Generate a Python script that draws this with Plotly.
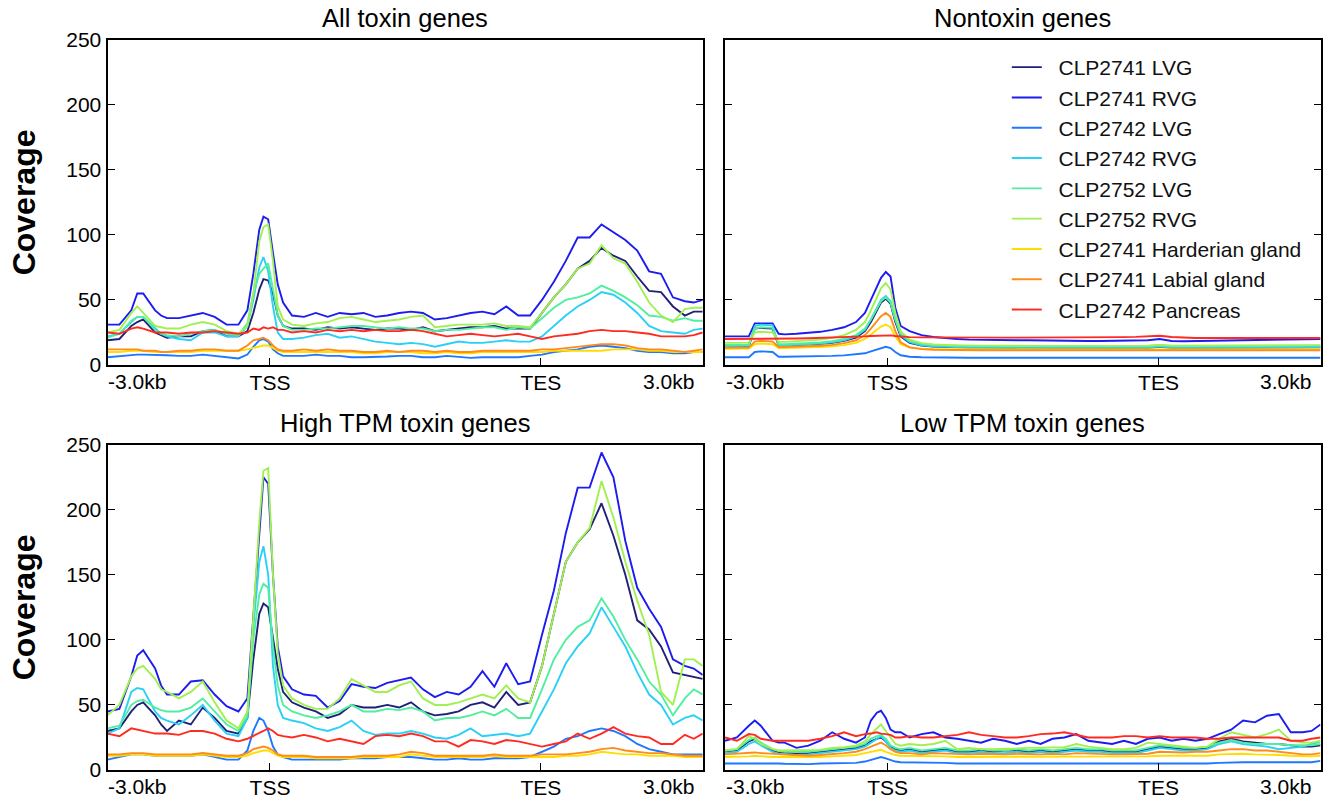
import plotly.graph_objects as go

# x grid (position along the scaled profile, 0..1000 = full panel width)
bins = [0, 20, 40, 50, 60, 80, 90, 100, 120, 140, 160, 180, 200, 220, 235, 245, 255, 262, 270, 278,
        286, 295, 310, 330, 350, 370, 390, 410, 430, 450, 470, 490, 510, 530, 550, 570, 590, 610, 630, 650,
        670, 690, 710, 730, 750, 770, 790, 810, 830, 850, 870, 890, 910, 930, 950, 970, 985, 1000]

tick_pos = [50, 273, 728, 942]
tick_text = ["-3.0kb", "TSS", "TES", "3.0kb"]

samples = ["CLP2741 LVG", "CLP2741 RVG", "CLP2742 LVG", "CLP2742 RVG", "CLP2752 LVG",
           "CLP2752 RVG", "CLP2741 Harderian gland", "CLP2741 Labial gland", "CLP2742 Pancreas"]
colors = ["#20207a", "#1c1cf0", "#1e78ff", "#2ad0f5", "#50eea0",
          "#a0f050", "#ffdd00", "#ff8c1a", "#ff2a20"]

panel_titles = ["All toxin genes", "Nontoxin genes", "High TPM toxin genes", "Low TPM toxin genes"]

# ---- All toxin genes ----
all_41_lvg = [19,20,30,33,35, 25,23,21,22,22, 26,27,22,22,26, 40,58,66,65,55, 38,30,28,28,27, 29,28,29,28,27,
              28,28,27,29,26, 27,28,29,29,30, 28,28,28,40,52, 62,74,80,90,84, 80,68,57,56,45, 38,41,41]
all_41_rvg = [31,31,42,55,55, 42,38,36,36,38, 40,37,31,31,42, 70,104,114,112,86, 62,48,38,37,40, 37,40,39,40,37,
              38,40,41,40,35, 36,38,40,41,39, 45,38,38,50,64, 80,98,98,108,102, 96,88,72,70,52, 49,48,50]
all_42_lvg = [6,7,8,8,8, 8,7.5,7.5,7,7, 8,7,6,5,8, 14,19,20,18,12, 9,7,7,7,8, 7,7,6,6,6,
              6.5,7,7,6,6, 7,6,5.5,6,6, 6,6,7,8,10, 11,12,14,15,14, 13,11,10,10,9, 9,10,10]
all_42_rvg = [22,24,33,37,37, 28,24,22,20,19, 25,25,22,22,30, 50,75,83,72,45, 25,20,20,21,23, 24,21,22,20,18,
              17,16,17,16,14, 16,18,17,17,18, 19,18,18,22,30, 38,45,50,56,54, 48,40,30,26,25, 24,27,28]
all_52_lvg = [21,24,34,37,37, 27,24,23,22,24, 26,27,24,23,32, 55,70,74,78,58, 38,30,27,27,28, 28,29,30,30,29,
              28,29,28,28,26, 27,27,28,29,29, 27,29,28,36,44, 50,52,55,61,57, 52,46,38,37,34, 36,34,34]
all_52_rvg = [25,27,40,45,40, 30,29,28,28,31, 33,31,26,24,30, 55,95,106,108,80, 45,35,31,30,32, 33,36,37,35,33,
              34,35,37,38,29, 30,31,31,31,32, 30,30,29,40,52, 62,74,78,92,82, 78,64,48,38,33, 43,44,44]
all_41_hg = [10,10,11,11,11, 10,10,10,10,10, 11,11,11,11,12, 13,14,15,15,13, 11,10,10,10,10, 10,10,10,9,9,
             10,10,10,9,9, 10,9,9,10,10, 10,10,10,10,11, 11,11,11,11,12, 12,12,11,11,10, 10,10,10]
all_41_lg = [12,12,12,12,11, 11,10,10,11,11, 12,12,11,11,15, 19,20,21,19,15, 12,11,11,12,11, 12,11,11,10,10,
             11,10,11,11,10, 11,10,10,11,11, 11,11,11,12,12, 13,14,15,16,16, 15,13,12,12,11, 10,11,12]
all_42_pan = [25,24,28,29,28, 25,25,25,24,25, 25,26,25,24,25, 28,27,29,28,29, 27,27,25,26,25, 27,26,27,26,27,
              26,26,27,26,24, 22,23,24,23,22, 23,24,22,20,22, 23,24,26,27,26, 26,25,24,22,22, 22,23,25]

# ---- Nontoxin genes ----
non_41_lvg = [14.5,14.5,14.6,28,28.5, 28,15,15,15.3,15.6, 16.2,17,18.5,21,26, 33,42,48,51,47, 33,22,17,15,14.2,
              13.8,13.6,13.5,13.4,13.3, 13.3,13.3,13.2,13.2,13.2, 13.2,13.2,13.2,13.2,13.2, 13.2,13.2,13.3,14,13.3,
              13.3,13.3,13.3,13.4,13.4, 13.4,13.5,13.5,13.5,13.5, 13.6,13.6,13.6]
non_41_rvg = [22,22,22,32,32, 32,24,23.5,24,24.5, 25.5,27,29,33,40, 50,60,67,71.5,68, 44,30,26,23,21.5,
              20.5,20,19.5,19.3,19, 19,19,19,18.8,18.7, 18.6,18.5,18.5,18.5,18.5, 18.6,18.8,19,20,18.5,
              18.2,18.4,18.6,18.8,19, 19.2,19.4,19.6,19.8,20, 20,20,20]
non_42_lvg = [6,6,6,10,10.5, 10,6.3,6.3,6.4,6.5, 6.7,7,7.4,8,9, 10.5,12,13,14,13, 10,7.5,6.3,5.9,5.7,
              5.6,5.6,5.6,5.6,5.6, 5.6,5.6,5.6,5.6,5.6, 5.6,5.6,5.6,5.6,5.6, 5.6,5.6,5.6,5.8,5.6,
              5.6,5.6,5.6,5.6,5.6, 5.6,5.6,5.6,5.6,5.6, 5.6,5.6,5.6]
non_42_rvg = [14.6,14.6,14.8,30,31, 30.5,15.2,15.2,15.5,15.8, 16.5,17.5,19,22,27, 35,44,50,53,49, 35,23,17.5,15.2,14.3,
              13.9,13.7,13.5,13.4,13.4, 13.3,13.3,13.3,13.3,13.3, 13.3,13.3,13.3,13.3,13.3, 13.3,13.3,13.4,14.2,13.4,
              13.4,13.4,13.4,13.5,13.5, 13.5,13.6,13.6,13.6,13.6, 13.7,13.7,13.7]
non_52_lvg = [15.5,15.5,15.6,28,29, 28.5,16,16,16.3,16.6, 17.3,18.3,20,23,28, 35,43,49,52,48, 35,24,18.5,16.2,15.3,
              15,14.8,14.7,14.6,14.6, 14.6,14.6,14.6,14.6,14.6, 14.6,14.6,14.6,14.6,14.6, 14.6,14.6,14.7,15.3,14.7,
              14.7,14.7,14.7,14.8,14.8, 14.8,14.8,14.9,14.9,14.9, 14.9,15,15]
non_52_rvg = [17,17,17.2,25,25.5, 25,17.8,17.8,18.2,18.6, 19.5,20.8,23,27,33, 42,52,59,63,58, 40,26,19.5,16.8,15.8,
              15.3,15,14.9,14.8,14.7, 14.7,14.7,14.7,14.7,14.7, 14.7,14.7,14.7,14.7,14.7, 14.7,14.7,14.8,15.4,14.8,
              14.8,14.8,14.8,14.9,14.9, 14.9,14.9,15,15,15, 15,15.1,15.1]
non_41_hg = [12.5,12.5,12.6,16,16.5, 16,13,13,13.2,13.4, 13.8,14.4,15.3,17,20, 23.5,27,29.5,31,29, 22,16,13.5,12.6,12.3,
             12.1,12,12,12,12, 12,12,12,12,12, 12,12,12,12,12, 12,12,12,12.4,12,
             12,12,12,12,12, 12,12,12,12,12, 12,12,12]
non_41_lg = [13.3,13.3,13.4,18,18.5, 18,13.8,13.8,14,14.3, 14.8,15.5,16.8,19,23, 28,33.5,37.5,40,37, 26,17.5,13.5,12.2,11.7,
             11.5,11.4,11.3,11.3,11.3, 11.3,11.3,11.3,11.3,11.3, 11.3,11.3,11.3,11.3,11.3, 11.3,11.3,11.3,11.8,11.3,
             11.3,11.3,11.3,11.3,11.3, 11.3,11.3,11.3,11.3,11.3, 11.3,11.3,11.3]
non_42_pan = [20,20,20,20,20, 20,20.2,20.2,20.4,20.6, 20.8,21,21.3,21.7,22, 22.3,22.6,22.8,23,22.8, 22.3,21.8,21.4,21.2,21.1,
              21,21,21,21,21, 21,21,21,21,21, 21.1,21.1,21.2,21.2,21.3, 21.4,21.6,21.9,22.5,21.5,
              21,20.8,20.8,20.8,20.8, 20.8,20.8,20.8,20.8,20.8, 20.8,20.8,20.8]

# ---- High TPM toxin genes ----
high_41_lvg = [30,32,45,50,52, 42,35,30,38,35, 48,40,30,28,40, 85,120,128,125,100, 78,60,52,48,45, 40,43,50,48,48,
               50,48,52,45,42, 43,45,50,52,48, 60,50,52,80,120, 160,175,185,205,180, 150,115,108,95,75, 73,72,70]
high_41_rvg = [45,47,72,88,92, 78,65,58,58,68, 69,58,49,45,55, 120,180,225,220,150, 95,72,62,58,57, 48,53,66,64,63,
               67,69,71,62,56, 60,58,64,76,64, 82,66,68,104,138, 182,217,217,244,225, 176,140,124,110,85, 80,78,73]
high_42_lvg = [8,10,12,12,12, 11,11,11,11,11, 12,10,8,8,15, 30,40,38,30,18, 12,10,8,8,8, 8,8,9,9,9,
               10,10,10,9,8, 8,9,8,8,9, 9,9,10,14,18, 24,26,30,32,30, 26,20,16,14,12, 12,12,12]
high_42_rvg = [28,32,60,63,62, 45,40,38,35,42, 50,38,28,26,40, 110,160,172,150,80, 50,40,38,36,32, 30,33,38,30,27,
               28,28,30,28,25, 24,27,32,26,27, 28,26,28,45,62, 82,95,105,125,110, 95,75,58,50,35, 40,42,38]
high_52_lvg = [32,34,50,53,54, 48,46,45,45,48, 55,45,35,30,42, 100,135,143,140,95, 65,50,45,42,40, 42,45,50,45,45,
               47,46,48,45,38, 40,40,42,45,42, 47,40,40,62,85, 100,110,115,132,118, 100,85,68,58,42, 55,62,58]
high_52_rvg = [42,50,72,78,80, 70,62,60,55,60, 68,52,38,32,45, 120,190,230,232,150, 90,65,55,50,47, 47,55,70,65,60,
               60,65,68,55,50, 50,52,55,58,55, 65,55,52,80,120, 160,175,186,222,194, 160,130,104,60,50, 85,85,80]
high_41_hg = [11,11,12,12,12, 11,11,11,11,11, 12,11,10,10,11, 13,14,15,15,13, 11,10,10,10,9, 9,9,9,10,10,
              10,10,12,11,10, 10,10,10,10,11, 10,10,10,10,10, 11,11,12,14,13, 12,12,11,11,11, 10,10,10]
high_41_lg = [12,12,13,13,13, 12,12,12,12,12, 13,12,11,11,13, 16,17,18,17,15, 12,11,11,11,10, 10,10,10,11,11,
              11,12,14,13,11, 11,11,11,11,12, 11,11,11,12,12, 12,13,14,16,17, 15,14,13,13,12, 11,11,11]
high_42_pan = [28,26,32,31,30, 28,28,28,27,30, 30,28,24,22,24, 26,28,30,32,30, 27,26,25,27,25, 22,24,22,20,26,
               27,26,28,26,22, 22,18,23,22,20, 23,22,20,18,20, 22,28,24,28,33, 28,26,25,20,20, 27,24,28]

# ---- Low TPM toxin genes ----
low_41_lvg = [14,15,22,24,20, 15,13.5,13,12.5,13, 14,15,16,17,19, 22,24,25,22,18, 16,15,16,14,15, 16,14,14,15,14,
              15,15,14,15,14, 15,16,15,15,14, 14,14,16,18,17, 16,16,17,22,24, 22,21,20,20,19, 18,18,19]
low_41_rvg = [22.5,25,34,38,34, 22.5,21,21,17,18.7, 22.5,29,24,21,25, 38,44,45.5,40,31, 29,29,25,27.6,29,
              25,24,22.5,21,24, 22.5,20,22.5,20,24, 25,27.6,22.5,21,20, 22.5,20,24,25,22.5,
              24,22.5,24,27.6,31, 38,36.6,41.7,43,29, 29,30,35]
low_42_lvg = [5,5,5.5,5.5,5.5, 5,5,4.8,4.5,4.5, 5,5,5.5,5.5,6.5, 8,9.5,10,9,7.5, 6.5,6,6,5.5,6, 5.5,5,5,5,5,
              4.8,5,5,4.8,5, 5,5,5,4.5,5, 5,4.8,4.5,5,5, 5,5,5,5.5,6, 6,6,6,6,5.5, 5.5,6,7]
low_42_rvg = [13,14,20,22,19, 14,12.5,12,11.5,12, 13,14,15,16,18, 21,24,26,22,17, 15,14,15,13,14, 15,13,13,14,13,
              13,14,13,14,13, 14,15,14,14,13, 13,13,15,17,16, 15,15,16,20,22, 20,19,18,16,17, 18,20,22]
low_52_lvg = [15,16,23,25,21, 16,14.5,14,14,14, 15,16,17,18,20, 24,26,27,24,19, 17,16,17,15,16, 17,15,15,16,15,
              15,16,15,16,15, 16,17,16,16,15, 15,15,17,19,18, 17,17,18,21,23, 21,20,20,20,19, 19,19,20]
low_52_rvg = [15,16,26,24,20, 16,15,15,15,15, 15.5,17,17.5,18.7,22, 27.6,32,35,30,25, 20,18.7,20,19,20,
              22.5,16,17,16,16, 16,16.5,17,17,17, 17.5,20,18,17,16, 16,17,21,20,18.7,
              18,17,18,24,29, 27,25,27.6,31,22.5, 21,21,22.5]
low_41_hg = [10,10,10.5,11,10.5, 10,10,10,9.5,9.5, 10,10.5,11,11.5,13, 14,15,15.5,14,12.5, 11.5,11,11,10.5,10.5,
             10.5,10,10,10.5,10, 10,10,10,10,10.5, 10,10.5,10,10,10, 10,10,10.5,11,11, 11,11,11,12,12.5,
             12.5,12,12,11.5,11, 10.5,10.5,11]
low_41_lg = [12,12.5,13,13.5,13, 12.5,12,11.5,11,11, 11.5,12,13,14,16, 18,20,21,19,16, 14,13,13,12,13,
             12.5,12,12,12.5,12, 12,12.5,12,12,12.5, 12,13,12.5,12.5,12, 12,12,12.5,14,13.5,
             13.5,14,14,15,16, 16,15,15,14,13, 12,12,13]
low_42_pan = [25,22.5,27.6,27,24, 22.5,22.5,22.5,22.5,22.5, 24,26,29,26,27.6, 28,29,28,27.6,27, 25,25,26,25,25,
              26,27,29,27,26, 25,25,26,27.6,28, 29,27,25,25,25, 26,26,25,26,25, 25,25,24,24,25,
              25,25,25,25,22.5, 22.5,24,25]

panels = [
    [all_41_lvg, all_41_rvg, all_42_lvg, all_42_rvg, all_52_lvg, all_52_rvg, all_41_hg, all_41_lg, all_42_pan],
    [non_41_lvg, non_41_rvg, non_42_lvg, non_42_rvg, non_52_lvg, non_52_rvg, non_41_hg, non_41_lg, non_42_pan],
    [high_41_lvg, high_41_rvg, high_42_lvg, high_42_rvg, high_52_lvg, high_52_rvg, high_41_hg, high_41_lg, high_42_pan],
    [low_41_lvg, low_41_rvg, low_42_lvg, low_42_rvg, low_52_lvg, low_52_rvg, low_41_hg, low_41_lg, low_42_pan],
]

W, H = 1328, 799
FONT = "Liberation Sans, Arial, Helvetica, sans-serif"

# panel boxes in pixels (left, right, top, bottom)
boxes = [(107.5, 702.7, 39.7, 365.0), (725.0, 1320.5, 39.7, 365.0),
         (107.5, 702.7, 444.7, 770.0), (725.0, 1320.5, 444.7, 770.0)]

fig = go.Figure()
for p, series in enumerate(panels):
    ax = "" if p == 0 else str(p + 1)
    for i, ys in enumerate(series):
        fig.add_trace(go.Scatter(
            x=bins, y=ys, mode="lines", name="\u00a0\u00a0" + samples[i],
            line=dict(color=colors[i], width=1.9),
            xaxis="x" + ax, yaxis="y" + ax,
            showlegend=(p == 1), legendgroup=samples[i],
            hoverinfo="skip"))

layout = dict(width=W, height=H, margin=dict(l=0, r=0, t=0, b=0, autoexpand=False),
              paper_bgcolor="white", plot_bgcolor="white",
              font=dict(family=FONT, size=21, color="black"),
              showlegend=True,
              legend=dict(x=1006.8 / W, y=1 - 47 / H, xanchor="left", yanchor="top",
                          bgcolor="rgba(0,0,0,0)", borderwidth=0,
                          font=dict(family=FONT, size=21, color="#111"),
                          tracegroupgap=0, traceorder="normal"),
              annotations=[])

annotations = []
for p, (l, r, t, b) in enumerate(boxes):
    ax = "" if p == 0 else str(p + 1)
    layout["xaxis" + ax] = dict(
        domain=[l / W, r / W], anchor="y" + ax, range=[0, 1000],
        showline=True, mirror=True, linecolor="black", linewidth=2,
        ticks="inside", ticklen=7, tickwidth=1.2, tickcolor="black",
        tickvals=tick_pos[1:3], ticktext=tick_text[1:3], ticklabelstandoff=-2,
        tickfont=dict(size=21), showgrid=False, zeroline=False, fixedrange=True)
    layout["yaxis" + ax] = dict(
        domain=[1 - b / H, 1 - t / H], anchor="x" + ax, range=[0, 250],
        showline=True, mirror="ticks", linecolor="black", linewidth=2,
        ticks="inside", ticklen=7, tickwidth=1.2, tickcolor="black",
        tickvals=[0, 50, 100, 150, 200, 250], showticklabels=(p % 2 == 0),
        tickfont=dict(size=21), showgrid=False, zeroline=False, fixedrange=True)
    # end labels of the profile axis
    for k in (0, 3):
        annotations.append(dict(x=tick_pos[k], xref="x" + ax, y=1 - b / H, yref="paper",
                                text=tick_text[k], showarrow=False, xanchor="center",
                                yanchor="top", yshift=-3, font=dict(size=21)))
    annotations.append(dict(x=(l + r) / 2 / W, y=1 - (t - 6) / H, xref="paper", yref="paper",
                            text=panel_titles[p], showarrow=False, xanchor="center",
                            yanchor="bottom", font=dict(size=25.5)))
    if p % 2 == 0:
        annotations.append(dict(x=24 / W, y=1 - (t + b) / 2 / H, xref="paper", yref="paper",
                                text="<b>Coverage</b>", textangle=-90, showarrow=False,
                                xanchor="center", yanchor="middle", font=dict(size=32)))
layout["annotations"] = annotations
fig.update_layout(**layout)
fig.write_html("out.html")
